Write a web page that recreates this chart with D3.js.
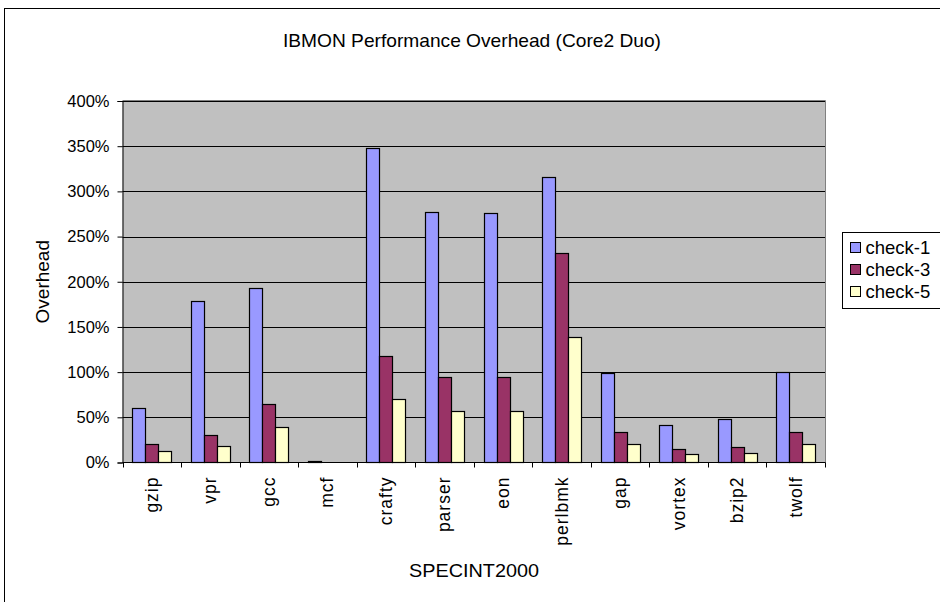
<!DOCTYPE html>
<html>
<head>
<meta charset="utf-8">
<script src="https://cdn.jsdelivr.net/npm/d3@7"></script>
<style>
  body { margin: 0; background: #fff; }
  svg { display: block; font-family: "Liberation Sans", Arial, sans-serif; }
</style>
</head>
<body>
<div id="chart"></div>
<script>
// benchmark names and overhead values (fraction, 1 = 100%)
var benchmarks = ["gzip", "vpr", "gcc", "mcf", "crafty", "parser", "eon", "perlbmk", "gap", "vortex", "bzip2", "twolf"];
var seriesNames = ["check-1", "check-3", "check-5"];
var check1 = [0.60, 1.79, 1.93, 0.02, 3.48, 2.77, 2.76, 3.16, 0.99, 0.42, 0.48, 1.00];
var check3 = [0.20, 0.30, 0.65, 0.00, 1.18, 0.95, 0.95, 2.32, 0.34, 0.15, 0.17, 0.34];
var check5 = [0.13, 0.18, 0.39, 0.00, 0.70, 0.57, 0.57, 1.39, 0.20, 0.09, 0.11, 0.21];
var yTicks = [0, 0.5, 1, 1.5, 2, 2.5, 3, 3.5, 4];
var colors = ["#9999FF", "#993366", "#FFFFCC"];

var width = 940, height = 602;
var plot = {left: 122.5, right: 825, top: 101, bottom: 462.5};

var svg = d3.select("#chart").append("svg")
  .attr("width", width)
  .attr("height", height);

// outer chart frame
svg.append("rect")
  .attr("x", 4.5).attr("y", 8.5)
  .attr("width", 960).attr("height", 620)
  .attr("fill", "#fff").attr("stroke", "#000");

var x = d3.scaleBand()
  .domain(benchmarks)
  .range([plot.left, plot.right])
  .paddingInner(1 / 3)
  .paddingOuter(1 / 6);

var xs = d3.scaleBand()
  .domain(seriesNames)
  .range([0, x.bandwidth()]);

var y = d3.scaleLinear()
  .domain([0, 4])
  .range([plot.bottom, plot.top]);

// plot area
svg.append("rect")
  .attr("x", plot.left).attr("y", plot.top)
  .attr("width", plot.right - plot.left).attr("height", plot.bottom - plot.top)
  .attr("fill", "#C0C0C0");

// gridlines
svg.append("g").selectAll("line")
  .data(yTicks.slice(1))
  .enter().append("line")
  .attr("x1", plot.left).attr("x2", plot.right)
  .attr("y1", function(d) { return Math.round(y(d)) + 0.5; })
  .attr("y2", function(d) { return Math.round(y(d)) + 0.5; })
  .attr("stroke", "#000");

// plot border (right and top)
svg.append("path")
  .attr("d", "M" + plot.left + "," + (plot.top - 0.5) + "H" + (plot.right + 0.5) + "V" + plot.bottom)
  .attr("fill", "none").attr("stroke", "#808080");

// bars
var data = [check1, check3, check5];
var groups = svg.append("g").selectAll("g")
  .data(seriesNames)
  .enter().append("g")
  .attr("fill", function(d, i) { return colors[i]; });

groups.selectAll("rect")
  .data(function(d, i) { return data[i].map(function(v, j) { return {name: benchmarks[j], series: d, value: v}; }); })
  .enter().append("rect")
  .filter(function(d) { return d.value > 0; })
  .attr("x", function(d) { return Math.round(x(d.name) + xs(d.series)) + 0.5; })
  .attr("width", xs.bandwidth())
  .attr("y", function(d) { return Math.round(y(d.value)) + 0.5; })
  .attr("height", function(d) { return Math.max(1, plot.bottom - Math.round(y(d.value)) - 0.5); })
  .attr("stroke", "#000")
  .attr("stroke-width", 1.2);

// y axis
var yAxis = d3.axisLeft(y)
  .tickValues(yTicks)
  .tickSize(5)
  .tickPadding(8)
  .tickFormat(function(d) { return Math.round(d * 100) + "%"; });

svg.append("g")
  .attr("transform", "translate(" + plot.left + ",0)")
  .call(yAxis)
  .call(function(g) {
    g.select(".domain").attr("stroke", "#000");
    g.selectAll("line").attr("stroke", "#000");
    g.selectAll("text").attr("font-size", 16.5).attr("fill", "#000")
      .attr("font-family", "Liberation Sans, Arial, sans-serif");
  });

// x axis with ticks at category boundaries
var xAxisG = svg.append("g");
xAxisG.append("line")
  .attr("x1", plot.left).attr("x2", plot.right + 0.5)
  .attr("y1", plot.bottom).attr("y2", plot.bottom)
  .attr("stroke", "#000");
xAxisG.selectAll("line.tick")
  .data(d3.range(benchmarks.length + 1))
  .enter().append("line")
  .attr("class", "tick")
  .attr("x1", function(i) { return Math.round(plot.left + i * x.step()) + 0.5; })
  .attr("x2", function(i) { return Math.round(plot.left + i * x.step()) + 0.5; })
  .attr("y1", plot.bottom).attr("y2", plot.bottom + 5)
  .attr("stroke", "#000");
xAxisG.selectAll("text")
  .data(benchmarks)
  .enter().append("text")
  .attr("transform", function(d) {
    return "translate(" + (x(d) + x.bandwidth() / 2 + 6) + "," + (plot.bottom + 14) + ") rotate(-90)";
  })
  .attr("text-anchor", "end")
  .attr("font-size", 17.5)
  .attr("letter-spacing", 1)
  .text(function(d) { return d; });

// titles
svg.append("text")
  .attr("x", 472).attr("y", 47)
  .attr("text-anchor", "middle")
  .attr("font-size", 19)
  .attr("textLength", 378)
  .attr("lengthAdjust", "spacingAndGlyphs")
  .text("IBMON Performance Overhead (Core2 Duo)");

svg.append("text")
  .attr("x", 474).attr("y", 577)
  .attr("text-anchor", "middle")
  .attr("font-size", 19)
  .attr("textLength", 130)
  .attr("lengthAdjust", "spacingAndGlyphs")
  .text("SPECINT2000");

svg.append("text")
  .attr("transform", "translate(49," + ((plot.top + plot.bottom) / 2) + ") rotate(-90)")
  .attr("text-anchor", "middle")
  .attr("font-size", 19)
  .text("Overhead");

// legend
var legend = svg.append("g").attr("transform", "translate(842.5,232.5)");
legend.append("rect")
  .attr("width", 120).attr("height", 76)
  .attr("fill", "#fff").attr("stroke", "#000");
var items = legend.selectAll("g.item")
  .data(seriesNames)
  .enter().append("g")
  .attr("class", "item")
  .attr("transform", function(d, i) { return "translate(8," + (15 + i * 22) + ")"; });
items.append("rect")
  .attr("y", -5)
  .attr("width", 10).attr("height", 10)
  .attr("fill", function(d, i) { return colors[i]; })
  .attr("stroke", "#000");
items.append("text")
  .attr("x", 15).attr("y", 6.5)
  .attr("font-size", 18.5)
  .text(function(d) { return d; });
</script>
</body>
</html>
